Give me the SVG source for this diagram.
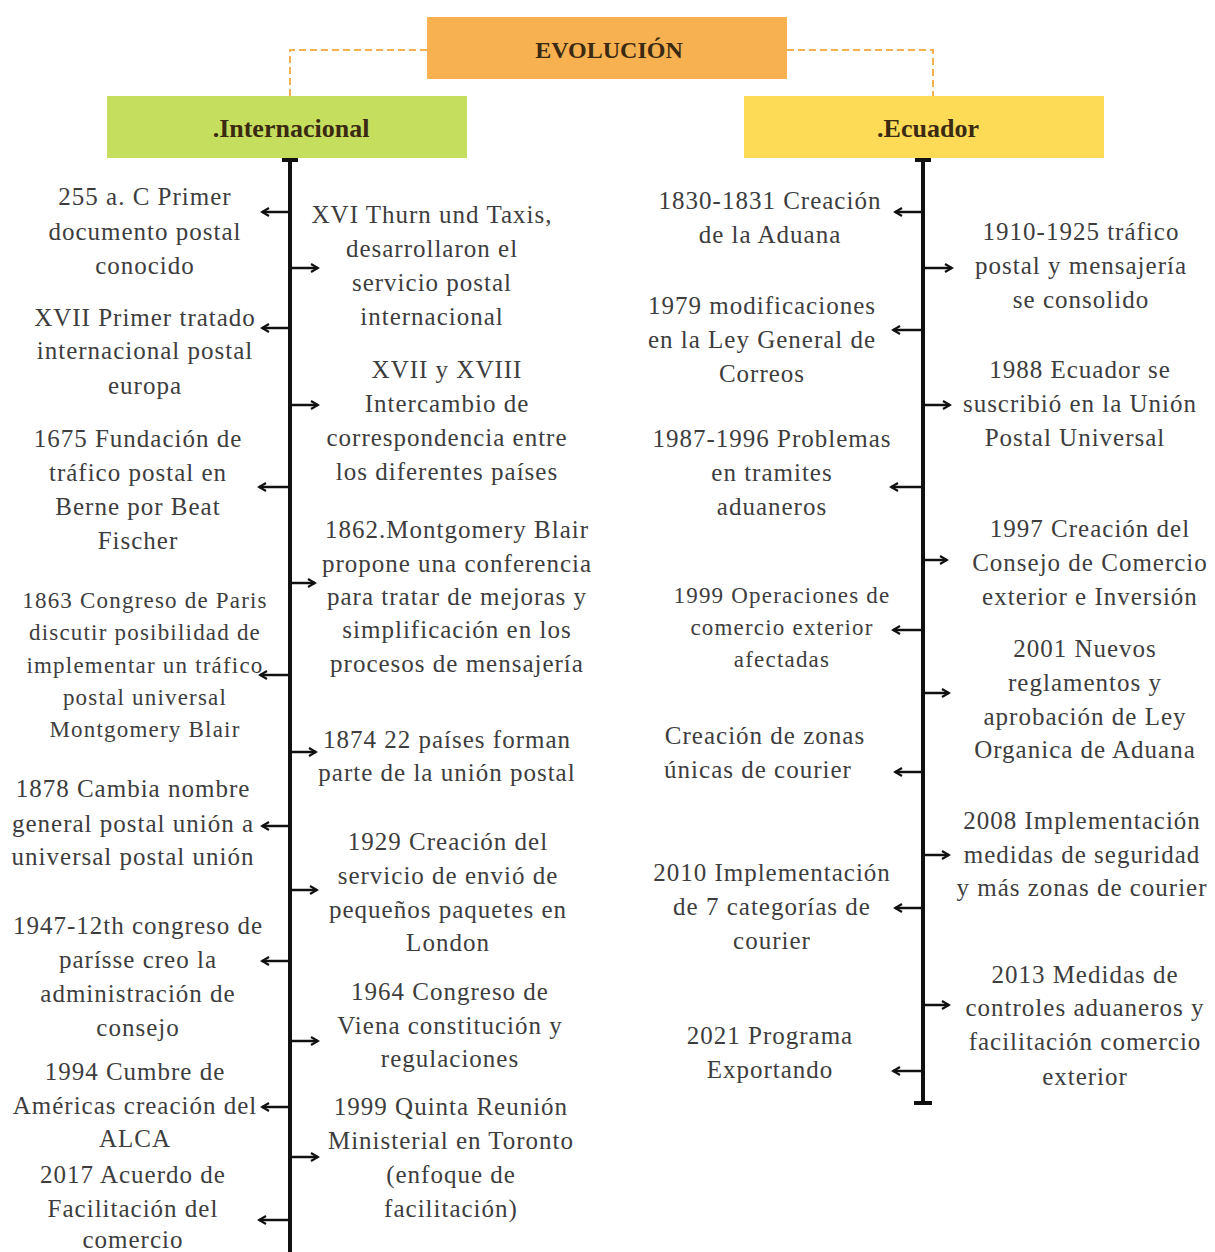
<svg xmlns="http://www.w3.org/2000/svg" width="1215" height="1252" viewBox="0 0 1215 1252">
<style>
.t{font-family:"Liberation Serif","Times New Roman",serif;font-size:25px;letter-spacing:1px;fill:#3d3d3d;text-anchor:middle}
.s{font-size:23px;letter-spacing:1.2px}
.h{font-family:"Liberation Serif","Times New Roman",serif;font-size:26px;font-weight:bold;fill:#3a2a12;text-anchor:middle}
.ax{stroke:#111;stroke-width:4;fill:none}
.ar{stroke:#111;stroke-width:2.5;fill:none;marker-end:url(#ah)}
.d{stroke:#f2b24f;stroke-width:2;stroke-dasharray:7 4;fill:none}
</style>
<defs>
<marker id="ah" viewBox="0 0 10 10" refX="8" refY="5" markerWidth="4" markerHeight="4" orient="auto" markerUnits="strokeWidth">
<path d="M1,1 L8,5 L1,9" fill="none" stroke="#111" stroke-width="2.2"/>
</marker>
</defs>
<rect width="1215" height="1252" fill="#fff"/>
<g id="connectors">
<path class="d" d="M427,50 H290 V96"/>
<path class="d" d="M787,50 H933 V96"/>
<line class="ax" x1="290" y1="160" x2="290" y2="1252"/>
<line class="ax" x1="282" y1="160" x2="298" y2="160"/>
<line class="ax" x1="923" y1="160" x2="923" y2="1103"/>
<line class="ax" x1="915" y1="160" x2="931" y2="160"/>
<line class="ax" x1="914" y1="1103" x2="932" y2="1103"/>
<g>
<line class="ar" x1="290" y1="212" x2="262" y2="212"/>
<line class="ar" x1="290" y1="328" x2="262" y2="328"/>
<line class="ar" x1="290" y1="487" x2="259" y2="487"/>
<line class="ar" x1="290" y1="675" x2="260" y2="675"/>
<line class="ar" x1="290" y1="826" x2="262" y2="826"/>
<line class="ar" x1="290" y1="961" x2="262" y2="961"/>
<line class="ar" x1="290" y1="1107" x2="262" y2="1107"/>
<line class="ar" x1="290" y1="1220" x2="259" y2="1220"/>
<line class="ar" x1="290" y1="268" x2="318" y2="268"/>
<line class="ar" x1="290" y1="405" x2="318" y2="405"/>
<line class="ar" x1="290" y1="583" x2="315" y2="583"/>
<line class="ar" x1="290" y1="752" x2="316" y2="752"/>
<line class="ar" x1="290" y1="890" x2="317" y2="890"/>
<line class="ar" x1="290" y1="1041" x2="318" y2="1041"/>
<line class="ar" x1="290" y1="1157" x2="318" y2="1157"/>
<line class="ar" x1="923" y1="212" x2="895" y2="212"/>
<line class="ar" x1="923" y1="330" x2="893" y2="330"/>
<line class="ar" x1="923" y1="487" x2="891" y2="487"/>
<line class="ar" x1="923" y1="630" x2="893" y2="630"/>
<line class="ar" x1="923" y1="772" x2="895" y2="772"/>
<line class="ar" x1="923" y1="908" x2="895" y2="908"/>
<line class="ar" x1="923" y1="1071" x2="893" y2="1071"/>
<line class="ar" x1="923" y1="268" x2="952" y2="268"/>
<line class="ar" x1="923" y1="405" x2="950" y2="405"/>
<line class="ar" x1="923" y1="560" x2="947" y2="560"/>
<line class="ar" x1="923" y1="693" x2="949" y2="693"/>
<line class="ar" x1="923" y1="855" x2="949" y2="855"/>
<line class="ar" x1="923" y1="1005" x2="949" y2="1005"/>
</g>
</g>
<g id="evolucion"><rect x="427" y="17" width="360" height="62" fill="#f8b150"/><text class="h" x="609" y="58" style="font-size:24px">EVOLUCIÓN</text></g>
<g id="internacional"><rect x="107" y="96" width="360" height="62" fill="#c6de5e"/><text class="h" x="291" y="137">.Internacional</text></g>
<g id="ecuador"><rect x="744" y="96" width="360" height="62" fill="#fedb57"/><text class="h" x="928" y="137">.Ecuador</text></g>

<g id="i1"><text class="t" x="145" y="205">255 a. C Primer</text><text class="t" x="145" y="240">documento postal</text><text class="t" x="145" y="274">conocido</text></g>
<g id="i2"><text class="t" x="145" y="326">XVII Primer tratado</text><text class="t" x="145" y="359">internacional postal</text><text class="t" x="145" y="394">europa</text></g>
<g id="i3"><text class="t" x="138" y="447">1675 Fundación de</text><text class="t" x="138" y="481">tráfico postal en</text><text class="t" x="138" y="515">Berne por Beat</text><text class="t" x="138" y="549">Fischer</text></g>
<g id="i4"><text class="t s" x="145" y="608">1863 Congreso de Paris</text><text class="t s" x="145" y="640">discutir posibilidad de</text><text class="t s" x="145" y="673">implementar un tráfico</text><text class="t s" x="145" y="705">postal universal</text><text class="t s" x="145" y="737">Montgomery Blair</text></g>
<g id="i5"><text class="t" x="133" y="797">1878 Cambia nombre</text><text class="t" x="133" y="832">general postal unión a</text><text class="t" x="133" y="865">universal postal unión</text></g>
<g id="i6"><text class="t" x="138" y="934">1947-12th congreso de</text><text class="t" x="138" y="968">parísse creo la</text><text class="t" x="138" y="1002">administración de</text><text class="t" x="138" y="1036">consejo</text></g>
<g id="i7"><text class="t" x="135" y="1080">1994 Cumbre de</text><text class="t" x="135" y="1114">Américas creación del</text><text class="t" x="135" y="1147">ALCA</text></g>
<g id="i8"><text class="t" x="133" y="1183">2017 Acuerdo de</text><text class="t" x="133" y="1217">Facilitación del</text><text class="t" x="133" y="1248">comercio</text></g>

<g id="i9"><text class="t" x="432" y="223">XVI Thurn und Taxis,</text><text class="t" x="432" y="257">desarrollaron el</text><text class="t" x="432" y="291">servicio postal</text><text class="t" x="432" y="325">internacional</text></g>
<g id="i10"><text class="t" x="447" y="378">XVII y XVIII</text><text class="t" x="447" y="412">Intercambio de</text><text class="t" x="447" y="446">correspondencia entre</text><text class="t" x="447" y="480">los diferentes países</text></g>
<g id="i11"><text class="t" x="457" y="538">1862.Montgomery Blair</text><text class="t" x="457" y="572">propone una conferencia</text><text class="t" x="457" y="605">para tratar de mejoras y</text><text class="t" x="457" y="638">simplificación en los</text><text class="t" x="457" y="672">procesos de mensajería</text></g>
<g id="i12"><text class="t" x="447" y="748">1874 22 países forman</text><text class="t" x="447" y="781">parte de la unión postal</text></g>
<g id="i13"><text class="t" x="448" y="850">1929 Creación del</text><text class="t" x="448" y="884">servicio de envió de</text><text class="t" x="448" y="918">pequeños paquetes en</text><text class="t" x="448" y="951">London</text></g>
<g id="i14"><text class="t" x="450" y="1000">1964 Congreso de</text><text class="t" x="450" y="1034">Viena constitución y</text><text class="t" x="450" y="1067">regulaciones</text></g>
<g id="i15"><text class="t" x="451" y="1115">1999 Quinta Reunión</text><text class="t" x="451" y="1149">Ministerial en Toronto</text><text class="t" x="451" y="1183">(enfoque de</text><text class="t" x="451" y="1217">facilitación)</text></g>

<g id="e1"><text class="t" x="770" y="209">1830-1831 Creación</text><text class="t" x="770" y="243">de la Aduana</text></g>
<g id="e2"><text class="t" x="762" y="314">1979 modificaciones</text><text class="t" x="762" y="348">en la Ley General de</text><text class="t" x="762" y="382">Correos</text></g>
<g id="e3"><text class="t" x="772" y="447">1987-1996 Problemas</text><text class="t" x="772" y="481">en tramites</text><text class="t" x="772" y="515">aduaneros</text></g>
<g id="e4"><text class="t s" x="782" y="603">1999 Operaciones de</text><text class="t s" x="782" y="635">comercio exterior</text><text class="t s" x="782" y="667">afectadas</text></g>
<g id="e5"><text class="t" x="765" y="744">Creación de zonas</text><text class="t" x="758" y="778">únicas de courier</text></g>
<g id="e6"><text class="t" x="772" y="881">2010 Implementación</text><text class="t" x="772" y="915">de 7 categorías de</text><text class="t" x="772" y="949">courier</text></g>
<g id="e7"><text class="t" x="770" y="1044">2021 Programa</text><text class="t" x="770" y="1078">Exportando</text></g>

<g id="e8"><text class="t" x="1081" y="240">1910-1925 tráfico</text><text class="t" x="1081" y="274">postal y mensajería</text><text class="t" x="1081" y="308">se consolido</text></g>
<g id="e9"><text class="t" x="1080" y="378">1988 Ecuador se</text><text class="t" x="1080" y="412">suscribió en la Unión</text><text class="t" x="1075" y="446">Postal Universal</text></g>
<g id="e10"><text class="t" x="1090" y="537">1997 Creación del</text><text class="t" x="1090" y="571">Consejo de Comercio</text><text class="t" x="1090" y="605">exterior e Inversión</text></g>
<g id="e11"><text class="t" x="1085" y="657">2001 Nuevos</text><text class="t" x="1085" y="691">reglamentos y</text><text class="t" x="1085" y="725">aprobación de Ley</text><text class="t" x="1085" y="758">Organica de Aduana</text></g>
<g id="e12"><text class="t" x="1082" y="829">2008 Implementación</text><text class="t" x="1082" y="863">medidas de seguridad</text><text class="t" x="1082" y="896">y más zonas de courier</text></g>
<g id="e13"><text class="t" x="1085" y="983">2013 Medidas de</text><text class="t" x="1085" y="1016">controles aduaneros y</text><text class="t" x="1085" y="1050">facilitación comercio</text><text class="t" x="1085" y="1085">exterior</text></g>
</svg>
